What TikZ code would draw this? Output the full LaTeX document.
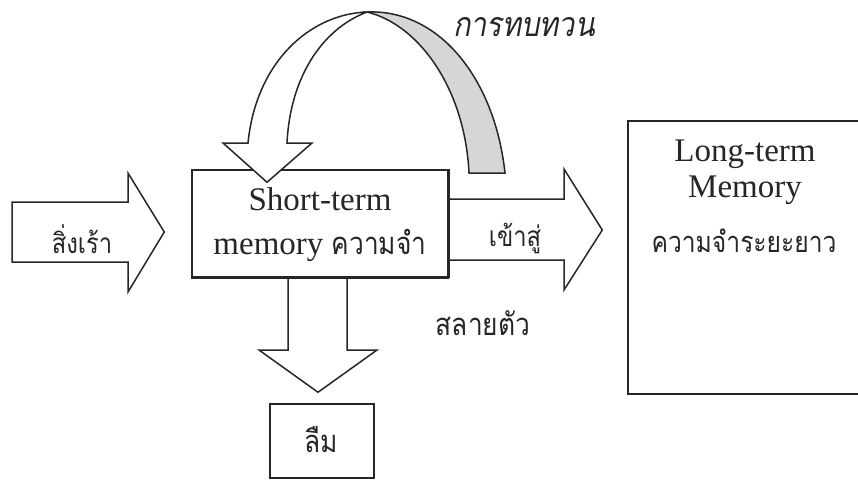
\documentclass[tikz,border=0pt]{standalone}
\usepackage{fontspec}
\usetikzlibrary{calc}
\setmainfont{Liberation Serif}
\newfontfamily\thaifont[Script=Thai,FakeStretch=0.85]{Loma}
\newfontfamily\thaiit[Script=Thai,FakeStretch=0.85,FakeSlant=0.18]{Loma}
\begin{document}
\begin{tikzpicture}[x=1pt,y=-1pt,
  outl/.style={draw=black!85,line width=1.5pt,line join=miter},
  lat/.style={inner sep=0pt,anchor=base,font=\fontsize{33}{36}\selectfont,text=black!85},
  th/.style={inner sep=0pt,anchor=base,font=\thaifont\fontsize{31}{36}\selectfont,text=black!85},
  boxn/.style={outl,fill=white,inner sep=0pt}]
\useasboundingbox (0,0) rectangle (858,480);
\clip (0,0) rectangle (858,480);

% boxes
\node[boxn,minimum width=256pt,minimum height=107pt] (stm) at (320,223.5) {};
\node[boxn,minimum width=104pt,minimum height=74pt] (forget) at (322,441) {};
\node[boxn,minimum width=260pt,minimum height=273pt] (ltm) at (758,257.5) {};

% input arrow
\draw[outl,fill=white] (12,202) -- (128,202) -- (128,173) -- ($(stm.west)+(-27,8.5)$) -- (128,292) -- (128,262) -- (12,262) -- cycle;

% arrow to long-term
\draw[outl,fill=white] (stm.east |- 0,199) -- (564,199) -- (564,169) -- ($(ltm.west)+(-25,-27.5)$) -- (564,290) -- (564,260) -- (stm.east |- 0,260);
\draw[outl] (stm.north east) -- (stm.south east);

% down arrow to forget
\draw[outl,fill=white] (stm.south -| 288,0) -- (288,350) -- (259,350) -- ($(forget.north)+(-4,-11)$) -- (377,350) -- (347,350) -- (stm.south -| 347,0);
\draw[outl] (stm.south west) -- (stm.south east);

% rehearsal loop: grey back part
\coordinate (apex) at (367,12);
\draw[outl,fill=black!16] (apex) .. controls (440,9) and (495,80) .. (505,173) -- (469,173) .. controls (465,90) and (420,25) .. (apex) -- cycle;
% white front part with head
\draw[outl,fill=white] (248,143) .. controls (256,62) and (310,14) .. (apex)
  .. controls (320,30) and (290,80) .. (287,143) -- (312,143) -- ($(stm.north)+(-53,13)$) -- (223,143) -- cycle;

% texts
\node[lat] (t1) at (320,210) {Short-term};
\node[lat] (t2) at (320,254) {memory {\thaifont\fontsize{31}{36}\selectfont ความจำ}};
\node[lat] (t3) at (745,161) {Long-term};
\node[lat] (t4) at (745,197) {Memory};
\node[th,font=\thaifont\fontsize{29}{34}\selectfont] (t5) at (744,252) {ความจำระยะยาว};
\node[th,font=\thaifont\fontsize{28}{34}\selectfont] (t6) at (82,253) {สิ่งเร้า};
\node[th,font=\thaifont\fontsize{28}{32}\selectfont] (t7) at (515,246) {เข้าสู่};
\node[th] (t8) at (483,335) {สลายตัว};
\node[th] (t9) at (321,452) {ลืม};
\node[th,font=\thaiit\fontsize{34}{36}\selectfont] (t10) at (524,36) {การทบทวน};
\end{tikzpicture}
\end{document}
